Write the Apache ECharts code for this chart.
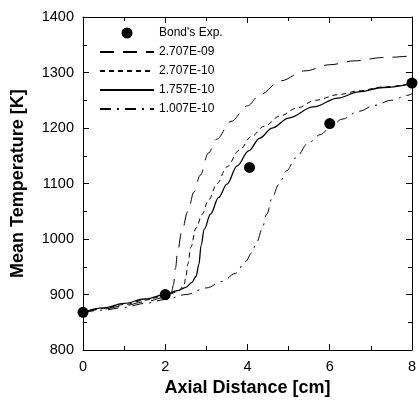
<!DOCTYPE html>
<html>
<head>
<meta charset="utf-8">
<script src="https://cdn.jsdelivr.net/npm/echarts@6/dist/echarts.min.js"></script>
<style>
html,body{margin:0;padding:0;background:#fff;}
#c{width:419px;height:402px;}
</style>
</head>
<body>
<div id="c"></div>
<script>
// Data
var seriesNames = ["Bond's Exp.", "2.707E-09", "2.707E-10", "1.757E-10", "1.007E-10"];
var bondExp = [[0, 868], [2, 900], [4.05, 1129], [6, 1208], [8, 1281]];
var curve2707e09 = [[0,868],[0.5,874],[1,880],[1.5,887],[2,895],[2.15,903],[2.2,918],[2.25,948],[2.3,978],[2.4,1013],[2.55,1050],[2.7,1085],[2.85,1115],[3.05,1155],[3.25,1180],[3.6,1212],[4.0,1240],[4.3,1260],[4.8,1285],[5.4,1303],[6.0,1314],[6.6,1321],[7.3,1327],[8,1330]];
var curve2707e10 = [[0,868],[0.5,875],[1,882],[1.5,890],[2,898],[2.3,905],[2.45,915],[2.5,930],[2.55,955],[2.62,985],[2.75,1020],[2.9,1045],[3.05,1070],[3.26,1100],[3.5,1130],[3.8,1160],[4.1,1185],[4.4,1203],[4.8,1222],[5.2,1236],[5.65,1250],[6.2,1260],[6.7,1267],[7.3,1274],[8,1280]];
var curve1757e10 = [[0,868],[0.5,876],[1,884],[1.5,892],[2,900],[2.3,907],[2.5,913],[2.65,922],[2.75,933],[2.82,955],[2.87,988],[2.95,1018],[3.1,1045],[3.3,1075],[3.5,1099],[3.75,1132],[4.03,1159],[4.3,1182],[4.6,1200],[5,1218],[5.6,1238],[6.2,1254],[6.7,1265],[7.3,1273],[8,1280]];
var curve1007e10 = [[0,868],[0.5,872],[1,877],[1.5,884],[2,891],[2.5,900],[3,912],[3.4,924],[3.7,938],[3.96,960],[4.1,975],[4.23,995],[4.35,1017],[4.47,1045],[4.6,1075],[4.76,1098],[4.95,1123],[5.17,1146],[5.48,1173],[5.77,1188],[6.0,1200],[6.3,1216],[6.7,1230],[7.1,1241],[7.5,1250],[7.9,1259],[8,1262]];
var xTicks = [0, 2, 4, 6, 8];
var yTicks = [800, 900, 1000, 1100, 1200, 1300, 1400];

var chart = echarts.init(document.getElementById('c'), null, {renderer: 'canvas'});
var font = 'Liberation Sans, Arial, sans-serif';
function axisCommon(extra) {
  var base = {
    axisLine: {show: true, onZero: false, lineStyle: {color: '#000', width: 1}},
    axisTick: {show: true, inside: true, length: 6, lineStyle: {color: '#000', width: 1}},
    minorTick: {show: true, splitNumber: 2, length: 4, lineStyle: {color: '#000', width: 1}},
    splitLine: {show: false},
    minorSplitLine: {show: false}
  };
  for (var k in extra) base[k] = extra[k];
  return base;
}
function lineSeries(name, data, dash, width) {
  return {
    name: name, type: 'line', data: data, showSymbol: false, symbol: 'none',
    smooth: 0.35, smoothMonotone: 'x',
    lineStyle: {color: '#000', width: width, type: dash},
    itemStyle: {color: '#000'},
    z: 2
  };
}
var plain = function (v) { return String(v); };
var option = {
  backgroundColor: '#fff',
  animation: false,
  grid: {left: 83, right: 5, top: 17, bottom: 47},
  legend: {
    orient: 'vertical', left: 94, top: 22,
    itemWidth: 54, itemHeight: 11, itemGap: 7,
    textStyle: {fontFamily: font, fontSize: 12, color: '#000'},
    data: [
      {name: seriesNames[0], icon: 'circle', itemStyle: {opacity: 1, color: '#000'}},
      {name: seriesNames[1], itemStyle: {opacity: 0}},
      {name: seriesNames[2], itemStyle: {opacity: 0}},
      {name: seriesNames[3], itemStyle: {opacity: 0}},
      {name: seriesNames[4], itemStyle: {opacity: 0}}
    ]
  },
  xAxis: [
    axisCommon({
      type: 'value', min: xTicks[0], max: xTicks[xTicks.length - 1], interval: 2,
      position: 'bottom',
      name: 'Axial Distance [cm]', nameLocation: 'middle', nameGap: 20,
      nameTextStyle: {fontFamily: font, fontSize: 18, fontWeight: 'bold', color: '#000'},
      axisLabel: {fontFamily: font, fontSize: 14.5, color: '#000', margin: 9, formatter: plain}
    }),
    axisCommon({
      type: 'value', min: xTicks[0], max: xTicks[xTicks.length - 1], interval: 2,
      position: 'top', axisLabel: {show: false}
    })
  ],
  yAxis: [
    axisCommon({
      type: 'value', min: yTicks[0], max: yTicks[yTicks.length - 1], interval: 100,
      position: 'left',
      name: 'Mean Temperature [K]', nameLocation: 'middle', nameGap: 56, nameRotate: 90,
      nameTextStyle: {fontFamily: font, fontSize: 18, fontWeight: 'bold', color: '#000'},
      axisLabel: {fontFamily: font, fontSize: 14.5, color: '#000', margin: 9, formatter: plain}
    }),
    axisCommon({
      type: 'value', min: yTicks[0], max: yTicks[yTicks.length - 1], interval: 100,
      position: 'right', axisLabel: {show: false}
    })
  ],
  series: [
    {
      name: seriesNames[0], type: 'scatter', data: bondExp, symbol: 'circle', symbolSize: 11,
      itemStyle: {color: '#000', opacity: 1}, z: 5
    },
    lineSeries(seriesNames[1], curve2707e09, [14, 9], 1),
    lineSeries(seriesNames[2], curve2707e10, [5, 4], 1),
    lineSeries(seriesNames[3], curve1757e10, 'solid', 1.3),
    lineSeries(seriesNames[4], curve1007e10, [11, 6, 2, 6], 1)
  ]
};
chart.setOption(option);
</script>
</body>
</html>
